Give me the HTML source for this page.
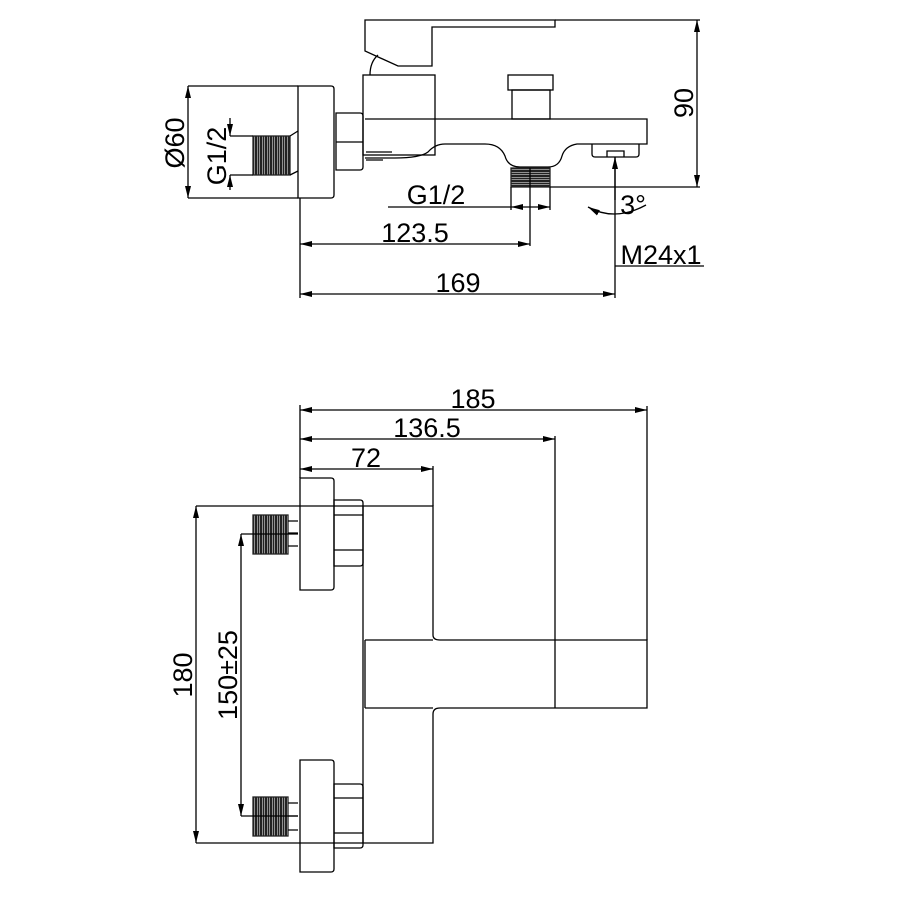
<!DOCTYPE html>
<html><head><style>
html,body{margin:0;padding:0;background:#fff;}
svg{display:block;}
text{font-family:"Liberation Sans",sans-serif;font-size:27px;fill:#000;}
</style></head><body>
<svg width="900" height="900" viewBox="0 0 900 900" xmlns="http://www.w3.org/2000/svg">
<defs>
<marker id="a" markerWidth="12" markerHeight="6" refX="12" refY="3" orient="auto-start-reverse" markerUnits="userSpaceOnUse">
<path d="M0,0 L12,3 L0,6 Z" fill="#000"/></marker>
<pattern id="th" width="2.5" height="4" patternUnits="userSpaceOnUse">
<rect width="2" height="4" fill="#222"/></pattern>
<pattern id="tv" width="4" height="2.5" patternUnits="userSpaceOnUse">
<rect width="4" height="2" fill="#222"/></pattern>
</defs>
<g fill="none" stroke="#000" stroke-width="1.3">
<path d="M298,86 H331 Q334,86 334,89 V195 Q334,198 331,198 H298 Z"/>
<rect x="253" y="136" width="37" height="39" fill="url(#th)" stroke="#222"/>
<path d="M290,136 L298,131 M290,175 L298,171"/>
<path d="M336,113 H360 Q363,113 363,116 V167 Q363,170 360,170 H336 Z M336,142 H363"/>
<rect x="363" y="75" width="72" height="80"/>
<path d="M365,20 H555 V27 H432 V66 H398 L365,51 Z"/>
<path d="M370,75 Q370,62 378,55"/>
<path d="M365,119 H647 V144 H577 Q565,146 562,156 Q559,167 548,167 H520 Q508,167 505,156 Q500,144 485,144 H445 Q435,144 428,152 Q420,158 395,158 H365"/>
<path d="M366,152 H392 M366,160 H383"/>
<rect x="508" y="75" width="45" height="15"/>
<rect x="512" y="90" width="38" height="29"/>
<rect x="511" y="168" width="39" height="19" fill="url(#tv)" stroke="#222"/>
<path d="M592,144 V154 Q592,157 595,157 H636 Q639,157 639,154 V144 M607,157 V151 H624 V157"/>
<path d="M188,86 H298 M188,198 H298"/>
<path d="M188,86 V198" marker-start="url(#a)" marker-end="url(#a)"/>
<path d="M230,136 H253 M230,175 H253"/>
<path d="M230,118 V136" marker-end="url(#a)"/>
<path d="M230,190 V175" marker-end="url(#a)"/>
<path d="M555,20 H700 M550,187 H700"/>
<path d="M697,20 V187" marker-start="url(#a)" marker-end="url(#a)"/>
<path d="M388,207 H511"/>
<path d="M511,207 H550" marker-start="url(#a)" marker-end="url(#a)"/>
<path d="M550,187 V210 M511,187 V210"/>
<path d="M530,168 V246"/>
<path d="M300,198 V298 M615,157 V298"/>
<path d="M300,244 H530" marker-start="url(#a)" marker-end="url(#a)"/>
<path d="M300,294 H615" marker-start="url(#a)" marker-end="url(#a)"/>
<path d="M615,157 V200" marker-start="url(#a)"/>
<path d="M615,266 H704"/>
<path d="M588,207 Q615,222 646,205" marker-start="url(#a)"/>
<path d="M300,478 H331 Q334,478 334,481 V587 Q334,590 331,590 H300 Z"/>
<path d="M300,760 H331 Q334,760 334,763 V869 Q334,872 331,872 H300 Z"/>
<path d="M334,500 H360 Q363,500 363,503 V563 Q363,566 360,566 H334 Z M334,515 H363 M334,550 H363"/>
<path d="M334,784 H360 Q363,784 363,787 V845 Q363,848 360,848 H334 Z M334,798 H363 M334,833 H363"/>
<rect x="253" y="515" width="35" height="39" fill="url(#th)" stroke="#222"/>
<rect x="253" y="797" width="35" height="39" fill="url(#th)" stroke="#222"/>
<path d="M288,521 H298 M288,533 H298 M288,546 H298 M288,803 H298 M288,816 H298 M288,830 H298"/>
<path d="M363,506 H433 V635 Q433,640 440,640 H647 V708 H440 Q433,708 433,714 V843 H363 Z"/>
<path d="M365,640 H433 M365,708 H433 M365,640 V708 M555,640 V708"/>
<path d="M300,405 V478 M433,466 V506 M555,436 V640 M647,406 V640"/>
<path d="M300,410 H647" marker-start="url(#a)" marker-end="url(#a)"/>
<path d="M300,439 H555" marker-start="url(#a)" marker-end="url(#a)"/>
<path d="M300,469 H433" marker-start="url(#a)" marker-end="url(#a)"/>
<path d="M196,506 H363 M196,843 H363"/>
<path d="M196,506 V843" marker-start="url(#a)" marker-end="url(#a)"/>
<path d="M241,534 H298 M241,816 H298"/>
<path d="M241,534 V816" marker-start="url(#a)" marker-end="url(#a)"/>
</g>
<text transform="translate(188,143) rotate(-90)" text-anchor="middle" dy="-4">Ø60</text>
<text transform="translate(230,156) rotate(-90)" text-anchor="middle" dy="-4">G1/2</text>
<text transform="translate(697,103) rotate(-90)" text-anchor="middle" dy="-4">90</text>
<text x="436" y="204" text-anchor="middle">G1/2</text>
<text x="415" y="242" text-anchor="middle">123.5</text>
<text x="458" y="292" text-anchor="middle">169</text>
<text x="661" y="264" text-anchor="middle">M24x1</text>
<text x="633" y="214" text-anchor="middle">3°</text>
<text x="473" y="408" text-anchor="middle">185</text>
<text x="427" y="437" text-anchor="middle">136.5</text>
<text x="366" y="467" text-anchor="middle">72</text>
<text transform="translate(196,675) rotate(-90)" text-anchor="middle" dy="-4">180</text>
<text transform="translate(241,675) rotate(-90)" text-anchor="middle" dy="-4">150±25</text>
</svg>
</body></html>
